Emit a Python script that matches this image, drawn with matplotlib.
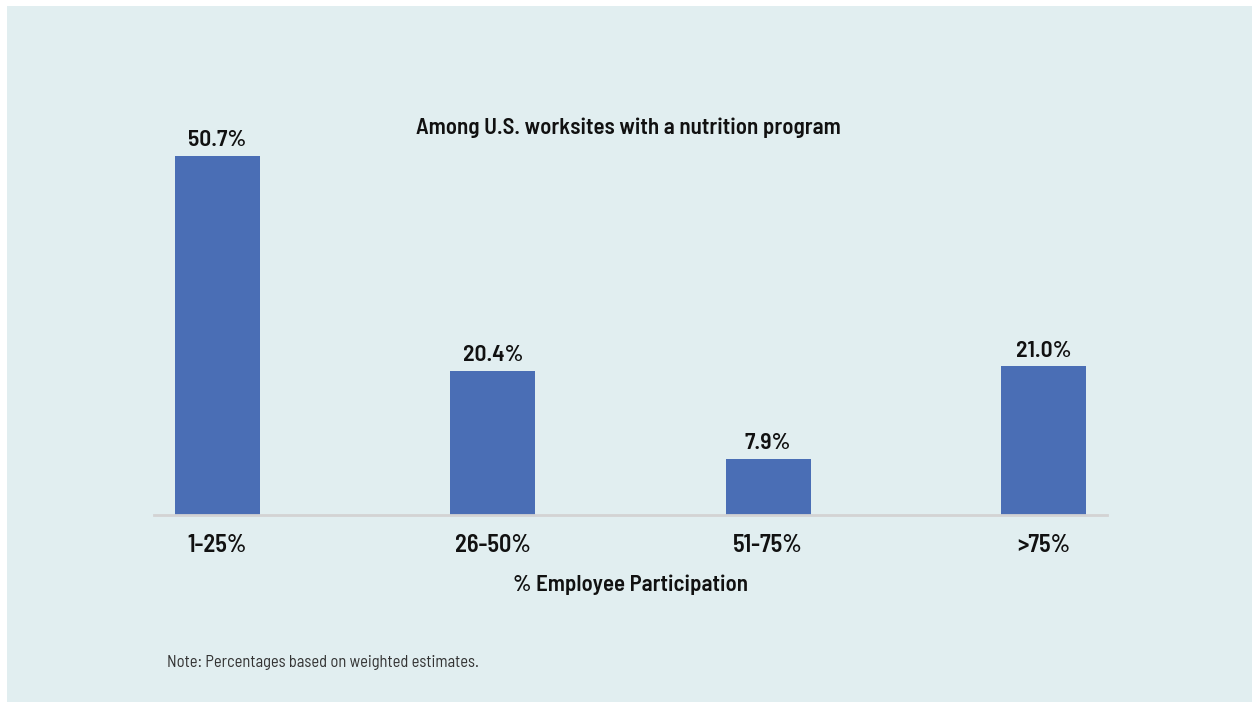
import matplotlib.pyplot as plt
from matplotlib.patches import Rectangle

categories = ["1-25%", "26-50%", "51-75%", ">75%"]
shares = [50.7, 20.4, 7.9, 21.0]

bg = "#e1eef0"
bar_color = "#4a6eb5"
ink = "#111111"
plt.rcParams["font.family"] = ["Barlow Semi Condensed", "DejaVu Sans"]

fig = plt.figure(figsize=(12.52, 7.02), dpi=100)
fig.patch.set_facecolor("white")
fig.patches.append(Rectangle((7 / 1252, 0), 1, 696 / 702, transform=fig.transFigure,
                             facecolor=bg, edgecolor="none", zorder=-5))

ax = fig.add_axes([154 / 1252, 187 / 702, 953 / 1252, 425 / 702])
ax.set_facecolor("none")
x = range(len(categories))
bars = ax.bar(x, shares, width=0.31, color=bar_color)
for b, v in zip(bars, shares):
    ax.text(b.get_x() + b.get_width() / 2, v + 0.8, f"{v:.1f}%", ha="center", va="bottom",
            fontsize=17, fontweight="semibold", color=ink)

ax.set_xlim(-0.23, 3.23)
ax.set_ylim(0, 60)
ax.set_xticks(list(x))
ax.set_xticklabels(categories, fontsize=17.5, fontweight="semibold", color=ink)
ax.tick_params(axis="x", length=0, pad=14)
ax.set_yticks([])
for s in ["top", "right", "left"]:
    ax.spines[s].set_visible(False)
ax.spines["bottom"].set_color("#d3d3d3")
ax.spines["bottom"].set_linewidth(2)

ax.set_xlabel("% Employee Participation", fontsize=16.5, fontweight="semibold", color=ink, labelpad=12)

fig.text(628 / 1252, 1 - 128 / 702, "Among U.S. worksites with a nutrition program", ha="center", va="center",
         fontsize=16.5, fontweight="semibold", color=ink)
fig.text(167 / 1252, 1 - 662 / 702, "Note: Percentages based on weighted estimates.", ha="left", va="center",
         fontsize=11.9, color="#333333")

fig.savefig("out.png", dpi=100, facecolor=fig.get_facecolor())
